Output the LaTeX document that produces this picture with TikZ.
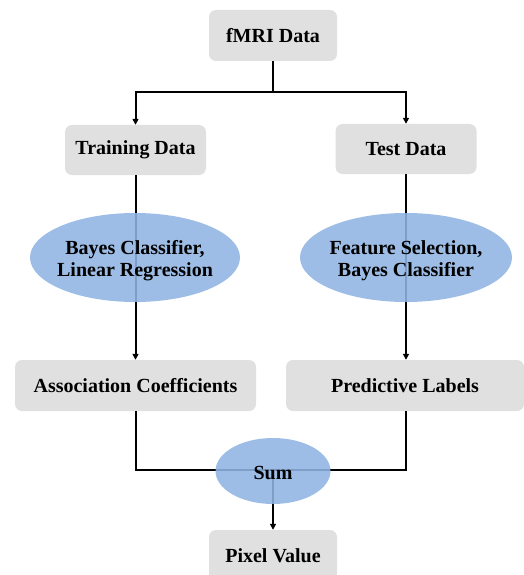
\documentclass[tikz,border=0pt]{standalone}
\usepackage{fontspec}
\setmainfont{Liberation Serif}
\usetikzlibrary{shapes.geometric,arrows.meta}
\definecolor{boxgray}{RGB}{224,224,224}
\definecolor{ellblue}{RGB}{143,180,227}
\begin{document}
\begin{tikzpicture}[x=1pt,y=-1pt,
  txt/.style={font=\bfseries\fontsize{20}{22}\selectfont,align=center,inner sep=0pt},
  box/.style={txt,rectangle,rounded corners=7pt,fill=boxgray,draw=none},
  ell/.style={ellipse,fill=ellblue,fill opacity=0.88,draw=none,inner sep=0pt},
  conn/.style={line width=2pt,draw=black},
  arr/.style={conn,-{Triangle[length=6pt,width=6pt]}}]
\useasboundingbox (0,0) rectangle (524,575);
\clip (0,0) rectangle (524,575);
\coordinate (j1) at (273,92);
\coordinate (jl) at (135.5,92);
\coordinate (jr) at (406,92);
\node[box,minimum width=128pt,minimum height=51pt] (fmri) at (273,35.5) {fMRI Data};
\node[box,minimum width=141pt,minimum height=50pt] (train) at (135.5,150) {Training Data};
\node[box,minimum width=141pt,minimum height=50pt] (test) at (406,149) {Test Data};
\node[box,minimum width=241pt,minimum height=51pt] (assoc) at (135.5,385.5) {Association Coefficients};
\node[box,minimum width=238pt,minimum height=51pt] (pred) at (405,385.5) {Predictive Labels};
\node[box,minimum width=128pt,minimum height=51pt] (pix) at (273,555.5) {Pixel Value};
\coordinate (sumc) at (273,470);
\coordinate (cl) at (135.5,470);
\coordinate (cr) at (406,470);
\draw[conn] (fmri.south) -- (j1);
\draw[arr] (j1) -- (jl) -- (train.north);
\draw[arr] (j1) -- (jr) -- (test.north);
\draw[arr] (train.south) -- (assoc.north);
\draw[arr] (test.south) -- (test.south |- pred.north);
\draw[conn] (assoc.south) -- (cl) -- (sumc);
\draw[conn] (pred.south -| cr) -- (cr) -- (sumc);
\draw[arr] (sumc) -- (pix.north);
\node[ell,minimum width=210pt,minimum height=89pt] (e1) at (135,257.5) {};
\node[ell,minimum width=212pt,minimum height=89pt] (e2) at (406,257.5) {};
\node[ell,minimum width=115pt,minimum height=66pt] (sum) at (273,471) {};
\node[txt] (t1) at ([yshift=-3.5pt]e1.center) {Bayes Classifier,\\Linear Regression};
\node[txt] (t2) at ([yshift=-3.5pt]e2.center) {Feature Selection,\\Bayes Classifier};
\node[txt] (t3) at ([yshift=-2pt]sum.center) {Sum};
\end{tikzpicture}
\end{document}
